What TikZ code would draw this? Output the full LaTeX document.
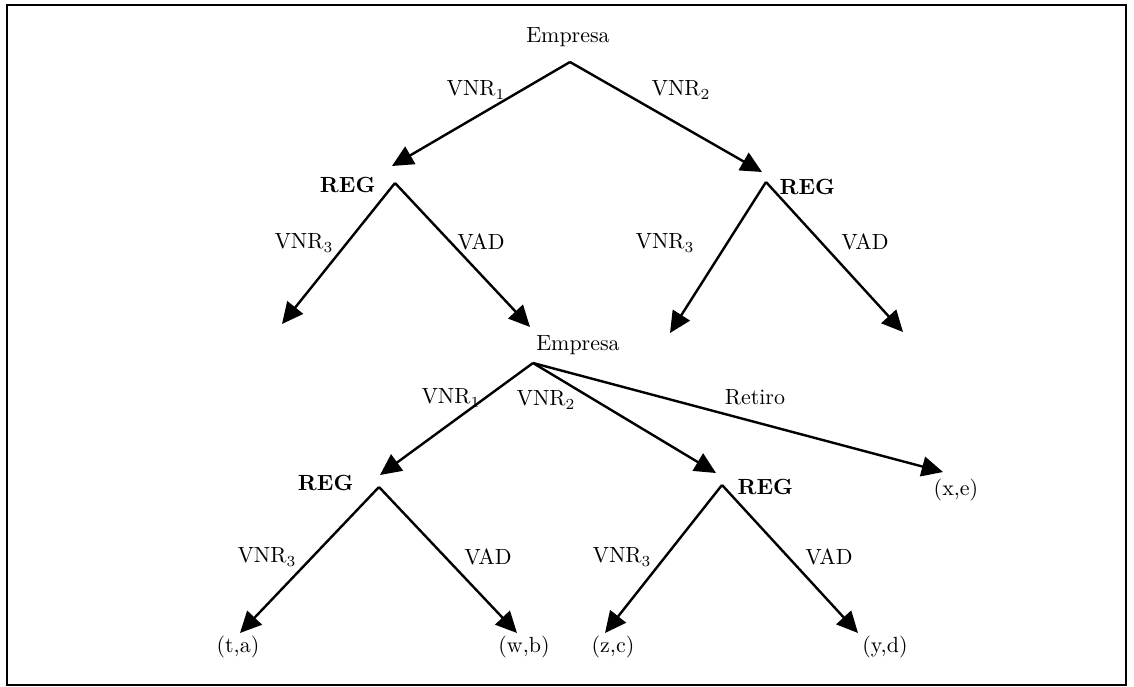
\documentclass[tikz,border=0pt]{standalone}
\usepackage{tikz}
\usetikzlibrary{arrows.meta}
\tikzset{
  lbl/.style={inner sep=1pt},
  regn/.style={font=\bfseries,inner sep=1pt},
  arr/.style={-{Triangle[length=3.4mm,width=3.2mm]},line width=1.1pt},
  frame/.style={line width=1.1pt},
}
\begin{document}
\begin{tikzpicture}[x=0.016cm,y=-0.016cm]
\useasboundingbox (0,0) rectangle (1134,687);
\draw[frame] (7,5) rectangle (1126,685);
% first decision
\node[lbl] (emp1) at (568,37) {Empresa};
\coordinate (top1) at (570,62);
\coordinate (end1) at (392,166);
\coordinate (end2) at (762,172);
\draw[arr] (top1) -- (end1);
\draw[arr] (top1) -- (end2);
\node[lbl] (v1) at (476,90) {VNR$_1$};
\node[lbl] (v2) at (681,90) {VNR$_2$};
% regulator, left
\node[regn,anchor=east] (reg1) at (378,185) {REG};
\coordinate (top2) at (395,183);
\coordinate (end3) at (282,324);
\coordinate (end4) at (530,327);
\draw[arr] (top2) -- (end3);
\draw[arr] (top2) -- (end4);
\node[lbl] (v3) at (304,243) {VNR$_3$};
\node[lbl] (vad1) at (481,242) {VAD};
% regulator, right
\node[regn,anchor=west] (reg2) at (777,187) {REG};
\coordinate (top3) at (766,182);
\coordinate (end5) at (670,333);
\coordinate (end6) at (903,332);
\draw[arr] (top3) -- (end5);
\draw[arr] (top3) -- (end6);
\node[lbl] (v4) at (665,243) {VNR$_3$};
\node[lbl] (vad2) at (865,242) {VAD};
% second decision
\node[lbl] (emp2) at (578,345) {Empresa};
\coordinate (top4) at (533,363);
\coordinate (end7) at (380,475);
\coordinate (end8) at (716,473);
\coordinate (end9) at (943,472);
\draw[arr] (top4) -- (end7);
\draw[arr] (top4) -- (end8);
\draw[arr] (top4) -- (end9);
\node[lbl] (v5) at (451,398) {VNR$_1$};
\node[lbl] (v6) at (546,400) {VNR$_2$};
\node[lbl] (ret) at (755,397) {Retiro};
\node[lbl] (xe) at (956,490) {(x,e)};
% regulator, bottom left
\node[regn,anchor=east] (reg3) at (356,483) {REG};
\coordinate (top5) at (379,487);
\coordinate (end10) at (240,633);
\coordinate (end11) at (517,633);
\draw[arr] (top5) -- (end10);
\draw[arr] (top5) -- (end11);
\node[lbl] (v7) at (267,557) {VNR$_3$};
\node[lbl] (vad3) at (488,557) {VAD};
% regulator, bottom right
\node[regn,anchor=west] (reg4) at (735,487) {REG};
\coordinate (top6) at (722,485);
\coordinate (end12) at (605,633);
\coordinate (end13) at (858,633);
\draw[arr] (top6) -- (end12);
\draw[arr] (top6) -- (end13);
\node[lbl] (v8) at (622,557) {VNR$_3$};
\node[lbl] (vad4) at (829,557) {VAD};
% payoffs
\node[lbl] (ta) at (238,647) {(t,a)};
\node[lbl] (wb) at (524,647) {(w,b)};
\node[lbl] (zc) at (613,647) {(z,c)};
\node[lbl] (yd) at (885,647) {(y,d)};
\end{tikzpicture}
\end{document}
